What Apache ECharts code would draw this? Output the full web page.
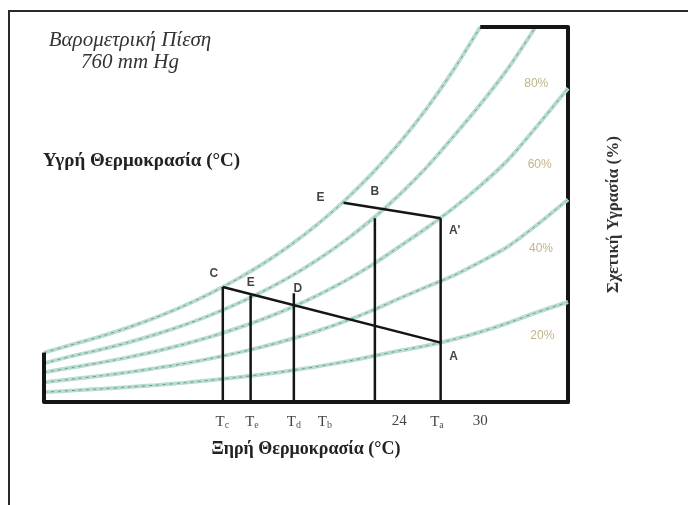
<!DOCTYPE html>
<html><head><meta charset="utf-8">
<script src="https://cdn.jsdelivr.net/npm/echarts@6/dist/echarts.min.js"></script>
<style>
html,body{margin:0;padding:0;background:#fff;}
#frame{position:absolute;left:8px;top:10px;width:680px;height:495px;border-top:2px solid #2a2a2a;border-left:2px solid #2a2a2a;box-sizing:border-box;}
#c{position:absolute;left:0;top:0;width:688px;height:505px;}
</style>
</head><body>
<div id="frame"></div>
<div id="c"></div>
<script>
// ---- data (dry-bulb temperature °C vs humidity ratio) ----
const xTickValues = [10.9, 13.1, 16.2, 18.5, 24, 26.8, 30];
const xTickLabels = ['Tc', 'Te', 'Td', 'Tb', '24', 'Ta', '30'];

const rh100T = [-2.3, 0, 2, 4, 6, 8, 10, 12, 14, 16, 18, 20, 22, 24, 26, 28, 30.0];
const rh100W = [3.95, 4.66, 5.28, 5.98, 6.77, 7.66, 8.68, 9.83, 11.12, 12.59, 14.26, 16.15, 18.29, 20.70, 23.43, 26.53, 30.0];
const rh80T = [-2.3, 0, 2, 4, 6, 8, 10, 12, 14, 16, 18, 20, 22, 24, 26, 28, 30, 32, 34.1];
const rh80W = [3.1, 3.73, 4.22, 4.78, 5.42, 6.13, 6.94, 7.86, 8.90, 10.07, 11.41, 12.92, 14.63, 16.56, 18.74, 21.22, 23.8, 26.6, 30.0];
const rh60T = [-2.3, 0, 2, 4, 6, 8, 10, 12, 14, 16, 18, 20, 22, 24, 26, 28, 30, 32, 34, 36.5];
const rh60W = [2.37, 2.80, 3.17, 3.59, 4.06, 4.60, 5.21, 5.90, 6.67, 7.55, 8.56, 9.69, 10.97, 12.42, 13.9, 15.5, 17.3, 19.3, 21.8, 25.1];
const rh40T = [-2.3, 0, 2, 4, 6, 8, 10, 12, 14, 16, 18, 20, 22, 24, 26, 28, 30, 32, 34, 36.5];
const rh40W = [1.58, 1.86, 2.11, 2.39, 2.71, 3.06, 3.47, 3.93, 4.45, 5.04, 5.70, 6.46, 7.32, 8.28, 9.2, 10.1, 11.2, 12.4, 14.0, 16.2];
const rh20T = [-2.3, 0, 2, 4, 6, 8, 10, 12, 14, 16, 18, 20, 22, 24, 26, 28, 30, 32, 34, 36.5];
const rh20W = [0.79, 0.93, 1.06, 1.20, 1.35, 1.53, 1.74, 1.97, 2.22, 2.52, 2.85, 3.23, 3.66, 4.1, 4.5, 5.0, 5.6, 6.3, 7.1, 8.0];

const rhNames = ['80%', '60%', '40%', '20%'];
const rhNameT = [34.15, 34.4, 34.5, 34.6];
const rhNameW = [25.5, 18.96, 12.3, 5.3];

// process lines
const lineCAT = [10.94, 27.07];
const lineCAW = [9.2, 4.75];
const lineEAT = [19.88, 27.07];
const lineEAW = [15.94, 14.7];
const vertT = [10.94, 13.0, 16.2, 22.2, 27.07];
const vertTop = [9.2, 8.55, 8.7, 14.7, 14.7];

const ptNames = ['C', 'E', 'D', 'A', 'E', 'B', "A'"];
const ptT = [10.94, 13.0, 16.2, 27.07, 19.88, 22.2, 27.07];
const ptW = [9.2, 8.55, 7.7, 4.75, 15.94, 15.54, 14.7];

const xMin = -2.3, xMax = 36.5, yMin = 0, yMax = 30;

// ---- styles ----
const ptOffsets = [[-9, -13], [0, -12], [4, -17], [13, 14], [-23, -5], [0, -16], [14, 12]];

function pairs(T, W) { return T.map((t, i) => [t, W[i]]); }
function curve(T, W) {
  const d = pairs(T, W);
  return [
    { type: 'line', data: d, smooth: 0.3, symbol: 'none', silent: true, z: 1,
      lineStyle: { color: '#b8dccd', width: 4 } },
    { type: 'line', data: d, smooth: 0.3, symbol: 'none', silent: true, z: 2,
      lineStyle: { color: '#6e9e8d', width: 1, type: [3, 4] } }
  ];
}
const black = '#151515';
const series = [];
[[rh100T, rh100W], [rh80T, rh80W], [rh60T, rh60W], [rh40T, rh40W], [rh20T, rh20W]]
  .forEach(c => series.push(...curve(c[0], c[1])));

// boundary: left edge up to saturation curve, top edge from saturation curve to right
series.push({ type: 'line', clip: false, symbol: 'none', z: 5,
  data: [[xMin, yMin], [xMin, rh100W[0]]], lineStyle: { color: black, width: 4 } });
series.push({ type: 'line', clip: false, symbol: 'none', z: 5,
  data: [[rh100T[rh100T.length - 1], yMax], [xMax, yMax]], lineStyle: { color: black, width: 4 } });

series.push({ type: 'line', symbol: 'none', z: 6, data: pairs(lineCAT, lineCAW),
  lineStyle: { color: black, width: 2.5 } });
series.push({ type: 'line', symbol: 'none', z: 6, data: pairs(lineEAT, lineEAW),
  lineStyle: { color: black, width: 2.5 } });
vertT.forEach((t, i) => series.push({ type: 'line', symbol: 'none', z: 6,
  data: [[t, yMin], [t, vertTop[i]]], lineStyle: { color: black, width: 2.5 } }));

series.push({ type: 'scatter', symbolSize: 0, z: 8, silent: true,
  data: ptT.map((t, i) => ({ value: [t, ptW[i]], name: ptNames[i],
    label: { offset: ptOffsets[i] } })),
  label: { show: true, position: 'inside', formatter: p => p.name,
    fontFamily: 'Liberation Sans', fontWeight: 'bold', fontSize: 12, color: '#111' } });

series.push({ type: 'scatter', symbolSize: 0, z: 8, silent: true,
  data: rhNameT.map((t, i) => ({ value: [t, rhNameW[i]], name: rhNames[i] })),
  label: { show: true, position: 'inside', formatter: p => p.name,
    fontFamily: 'Liberation Sans', fontSize: 12, color: '#b3a06c' } });

const chart = echarts.init(document.getElementById('c'), null, { renderer: 'canvas' });
chart.setOption({
  animation: false,
  title: [
    { text: 'Βαρομετρική Πίεση\n760 mm Hg', left: 130, top: 29, textAlign: 'center', padding: 0,
      textStyle: { fontFamily: 'Liberation Serif', fontStyle: 'italic', fontWeight: 'normal',
        fontSize: 21, lineHeight: 22, color: '#333' } },
    { text: 'Υγρή Θερμοκρασία (°C)', left: 43, top: 152, padding: 0,
      textStyle: { fontFamily: 'Liberation Serif', fontWeight: 'bold', fontSize: 19, color: '#222' } }
  ],
  grid: { left: 44, right: 120, top: 27, bottom: 103 },
  xAxis: {
    type: 'value', min: xMin, max: xMax,
    axisLine: { show: true, onZero: false, lineStyle: { color: black, width: 4 } },
    axisTick: { show: false }, splitLine: { show: false },
    axisLabel: {
      customValues: xTickValues, margin: 12,
      formatter: v => {
        const i = xTickValues.findIndex(x => Math.abs(x - v) < 1e-6);
        const s = i >= 0 ? xTickLabels[i] : '';
        if (s.length === 2 && s[0] === 'T') return '{t|T}{s|' + s[1] + '}';
        return '{t|' + s + '}';
      },
      rich: {
        t: { fontFamily: 'Liberation Serif', fontSize: 15, color: '#444' },
        s: { fontFamily: 'Liberation Serif', fontSize: 10, color: '#555', verticalAlign: 'bottom', padding: [6, 0, 0, 0] }
      }
    },
    name: 'Ξηρή Θερμοκρασία (°C)', nameLocation: 'middle', nameGap: 38,
    nameTextStyle: { fontFamily: 'Liberation Serif', fontWeight: 'bold', fontSize: 18, color: '#222' }
  },
  yAxis: {
    type: 'value', min: yMin, max: yMax, position: 'right',
    axisLine: { show: true, onZero: false, lineStyle: { color: black, width: 4 } },
    axisTick: { show: false }, axisLabel: { show: false }, splitLine: { show: false },
    name: 'Σχετική Υγρασία (%)', nameLocation: 'middle', nameRotate: 90, nameGap: 37,
    nameTextStyle: { fontFamily: 'Liberation Serif', fontWeight: 'bold', fontSize: 17, color: '#333' }
  },
  series: series
});
</script>
</body></html>
